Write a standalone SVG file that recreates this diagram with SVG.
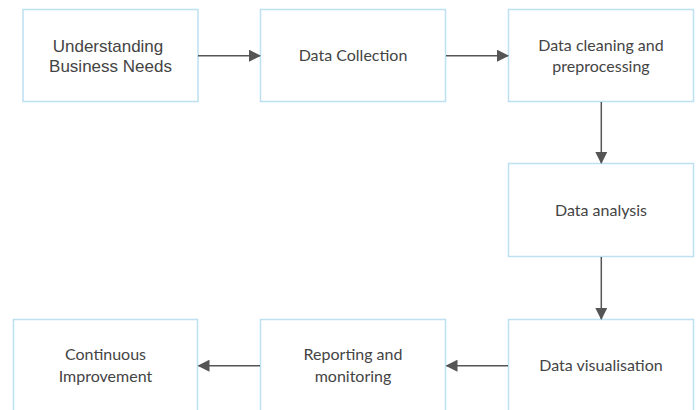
<svg xmlns="http://www.w3.org/2000/svg" width="696" height="410" viewBox="0 0 696 410">
<defs>
<marker id="ah" markerWidth="12" markerHeight="12" viewBox="0 0 12 12" refX="11" refY="6" orient="auto" markerUnits="userSpaceOnUse">
<path d="M0,0 L12,6 L0,12 Z" fill="#555"/>
</marker>
<style>
.box{fill:#fff;stroke:#bde0f2;stroke-width:1.5}
.t{font-family:Lato,"Open Sans",sans-serif;font-size:16px;fill:#444;text-anchor:middle}
.ta{font-family:"Liberation Sans",Arial,sans-serif;font-size:17px;fill:#444;text-anchor:middle}
.c{stroke:#555;stroke-width:1.5;fill:none;marker-end:url(#ah)}
</style>
</defs>
<rect width="696" height="410" fill="#fff"/>
<g id="n1"><rect class="box" x="23" y="9.5" width="175" height="92"/><text class="ta" x="108" y="52">Understanding</text><text class="ta" x="110.5" y="72">Business Needs</text></g>
<g id="n2"><rect class="box" x="260.5" y="9.5" width="185" height="92"/><text class="t" x="353" y="61">Data Collection</text></g>
<g id="n3"><rect class="box" x="508.5" y="9.5" width="185" height="92"/><text class="t" x="601" y="51">Data cleaning and</text><text class="t" x="601" y="72">preprocessing</text></g>
<g id="n4"><rect class="box" x="508.5" y="163.5" width="185" height="93"/><text class="t" x="601" y="215.5">Data analysis</text></g>
<g id="n5"><rect class="box" x="508.5" y="319.5" width="185" height="93"/><text class="t" x="601" y="371">Data visualisation</text></g>
<g id="n6"><rect class="box" x="260.5" y="319.5" width="185" height="93"/><text class="t" x="353" y="360">Reporting and</text><text class="t" x="353" y="382">monitoring</text></g>
<g id="n7"><rect class="box" x="13.5" y="319.5" width="184" height="93"/><text class="t" x="105.5" y="360">Continuous</text><text class="t" x="105.5" y="382">Improvement</text></g>
<g id="connectors">
<line class="c" x1="198" y1="55.7" x2="260" y2="55.7"/>
<line class="c" x1="446" y1="55.7" x2="508" y2="55.7"/>
<line class="c" x1="601.3" y1="102" x2="601.3" y2="163"/>
<line class="c" x1="601.3" y1="257" x2="601.3" y2="319"/>
<line class="c" x1="508" y1="365.7" x2="446.5" y2="365.7"/>
<line class="c" x1="260" y1="365.7" x2="198.5" y2="365.7"/>
</g>
</svg>
